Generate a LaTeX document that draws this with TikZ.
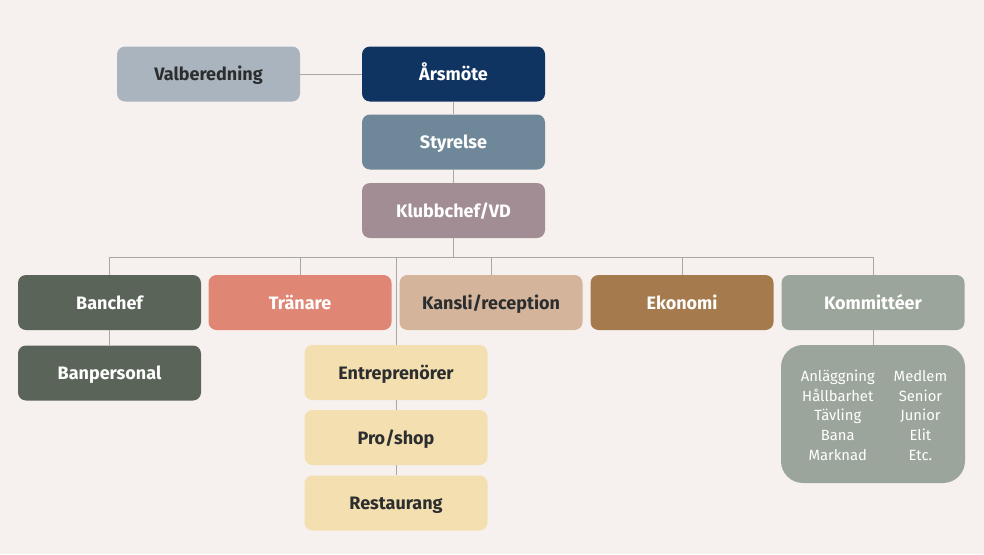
\documentclass[tikz,border=0pt]{standalone}
\usepackage{fontspec}
\setmainfont{Fira Sans}
\definecolor{bg}{HTML}{F6F1EE}
\definecolor{lineg}{HTML}{A9A6A4}
\definecolor{darktxt}{HTML}{2B2D2F}
\definecolor{cValb}{HTML}{AAB4BF}
\definecolor{cArs}{HTML}{0F3462}
\definecolor{cSty}{HTML}{6F8899}
\definecolor{cKlu}{HTML}{A38D95}
\definecolor{cBan}{HTML}{5B6459}
\definecolor{cTra}{HTML}{E08675}
\definecolor{cKan}{HTML}{D4B59B}
\definecolor{cEko}{HTML}{A57B4D}
\definecolor{cKom}{HTML}{9BA59B}
\definecolor{cEnt}{HTML}{F3DFAF}
\begin{document}
\begin{tikzpicture}[x=1pt,y=-1pt,
  box/.style={rounded corners=8pt, minimum width=183pt, minimum height=55pt,
    inner sep=0pt, text height=1.3em, text depth=0pt,
    font=\fontsize{18}{20}\selectfont\bfseries, text=white, draw=none},
  darkbox/.style={box, text=darktxt},
  conn/.style={draw=lineg, line width=0.9pt}]
\useasboundingbox[fill=bg] (0,0) rectangle (984,554);
% top chain
\node[darkbox, fill=cValb] (valb) at (208.5,74) {Valberedning};
\node[box, fill=cArs] (ars) at (453.5,74) {Årsmöte};
\node[box, fill=cSty] (sty) at (453.5,142) {Styrelse};
\node[box, fill=cKlu] (klu) at (453.5,210.5) {Klubbchef/VD};
% row
\node[box, fill=cBan] (banc) at (109.5,302.5) {Banchef};
\node[box, fill=cTra] (tra) at (300,302.5) {Tränare};
\node[darkbox, fill=cKan] (kan) at (491,302.5) {Kansli/reception};
\node[box, fill=cEko] (eko) at (682,302.5) {Ekonomi};
\node[box, fill=cKom] (kom) at (873,302.5) {Kommittéer};
% sub boxes
\node[box, fill=cBan] (banp) at (109.5,373) {Banpersonal};
\node[darkbox, fill=cEnt] (ent) at (396,372.5) {Entreprenörer};
\node[darkbox, fill=cEnt] (pro) at (396,437.5) {Pro/shop};
\node[darkbox, fill=cEnt] (res) at (396,503) {Restaurang};
\node[rounded corners=22pt, fill=cKom, minimum width=184pt, minimum height=138pt,
  inner sep=0pt] (komlist) at (873,414) {};
\node[text=white, font=\fontsize{14.8}{19.6}\selectfont, inner sep=0pt] (komtxt) at (874,417)
  {\begin{tabular}{@{}c@{\hspace{19pt}}c@{}}
   Anläggning & Medlem\\ Hållbarhet & Senior\\ Tävling & Junior\\ Bana & Elit\\ Marknad & Etc.
   \end{tabular}};
% connectors
\coordinate (busL) at (109.5,257);
\coordinate (busR) at (873,257);
\draw[conn] (valb.east) -- (ars.west);
\draw[conn] (ars.south) -- (sty.north);
\draw[conn] (sty.south) -- (klu.north);
\draw[conn] (klu.south) -- (klu.south |- busL);
\draw[conn] (busL) -- (busR);
\draw[conn] (banc.north |- busL) -- (banc.north);
\draw[conn] (tra.north |- busL) -- (tra.north);
\draw[conn] (kan.north |- busL) -- (kan.north);
\draw[conn] (eko.north |- busL) -- (eko.north);
\draw[conn] (kom.north |- busL) -- (kom.north);
\draw[conn] (ent.north |- busL) -- (ent.north);
\draw[conn] (banc.south) -- (banp.north);
\draw[conn] (ent.south) -- (pro.north);
\draw[conn] (pro.south) -- (res.north);
\draw[conn] (kom.south) -- (komlist.north);
\end{tikzpicture}
\end{document}
